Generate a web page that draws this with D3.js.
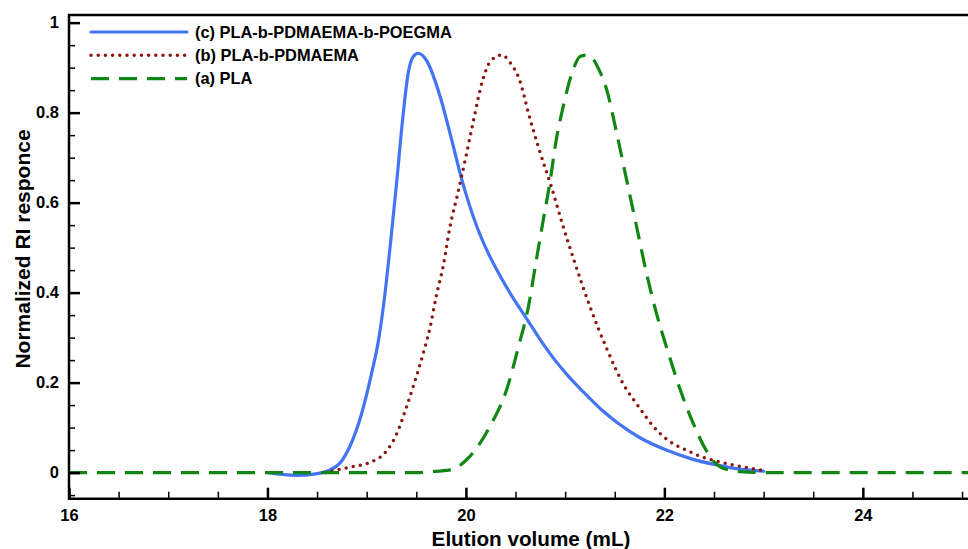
<!DOCTYPE html>
<html>
<head>
<meta charset="utf-8">
<script src="https://cdn.jsdelivr.net/npm/d3@7"></script>
<style>
    body { margin: 0; background: #fff; }
    text { font-family: "Liberation Sans", Arial, sans-serif; font-weight: bold; }
</style>
</head>
<body>
<div class="gpc-plot"></div>
<script>
// elution volume (mL) / normalized RI
const volC = [18.0, 18.15, 18.3, 18.45, 18.55, 18.63, 18.73, 18.83, 18.95, 19.05, 19.12, 19.18, 19.24, 19.3, 19.36, 19.42, 19.47, 19.52, 19.6, 19.74, 19.84, 19.96, 20.11, 20.22, 20.33, 20.47, 20.61, 20.75, 20.88, 21.03, 21.18, 21.35, 21.52, 21.75, 22.02, 22.28, 22.53, 22.75, 22.96, 23.0];
const riC  = [0, -0.004, -0.006, -0.004, 0, 0.006, 0.021, 0.058, 0.132, 0.221, 0.295, 0.39, 0.51, 0.64, 0.78, 0.89, 0.925, 0.932, 0.917, 0.836, 0.754, 0.65, 0.547, 0.49, 0.443, 0.39, 0.343, 0.295, 0.255, 0.215, 0.18, 0.143, 0.112, 0.078, 0.05, 0.03, 0.017, 0.008, 0.004, 0.003];

const volB = [18.58, 18.83, 19.05, 19.18, 19.3, 19.4, 19.49, 19.57, 19.64, 19.7, 19.77, 19.84, 19.91, 20.0, 20.07, 20.17, 20.25, 20.36, 20.45, 20.54, 20.64, 20.74, 20.86, 20.98, 21.11, 21.25, 21.42, 21.62, 21.69, 21.95, 22.29, 22.69, 22.96, 23.0];
const riB  = [0, 0.012, 0.024, 0.043, 0.085, 0.145, 0.206, 0.265, 0.324, 0.391, 0.458, 0.547, 0.613, 0.702, 0.776, 0.873, 0.915, 0.928, 0.91, 0.873, 0.791, 0.717, 0.636, 0.547, 0.458, 0.369, 0.275, 0.184, 0.162, 0.088, 0.043, 0.017, 0.006, 0.004];

const volA = [16.0, 19.5, 19.64, 19.84, 20.04, 20.24, 20.41, 20.53, 20.63, 20.71, 20.78, 20.85, 20.91, 20.98, 21.08, 21.15, 21.22, 21.28, 21.32, 21.42, 21.52, 21.62, 21.72, 21.82, 21.92, 22.02, 22.16, 22.29, 22.42, 22.56, 22.76, 23.0, 25.1];
const riA  = [0, 0, 0.002, 0.006, 0.036, 0.102, 0.184, 0.28, 0.369, 0.473, 0.562, 0.65, 0.739, 0.813, 0.895, 0.925, 0.928, 0.92, 0.905, 0.85, 0.754, 0.65, 0.547, 0.443, 0.354, 0.28, 0.184, 0.11, 0.05, 0.013, 0.002, 0, 0];

const seriesNames = ["(c) PLA-b-PDMAEMA-b-POEGMA", "(b) PLA-b-PDMAEMA", "(a) PLA"];
const xTicks = [16, 18, 20, 22, 24];
const yTicks = [0, 0.2, 0.4, 0.6, 0.8, 1];

function main(){
    const width = 968;
    const height = 549;

    const svg = d3.select('.gpc-plot')
        .append('svg')
        .attr('width', width)
        .attr('height', height);

    const x = d3.scaleLinear().domain([16, 25.07]).range([69, 969]);
    const y = d3.scaleLinear().domain([-0.058, 1.017]).range([498.7, 15]);

    const series = [
        {name: seriesNames[0], vol: volC, ri: riC, color: "#4274f4", dash: null, cap: "round"},
        {name: seriesNames[1], vol: volB, ri: riB, color: "#8b1710", dash: "0,7.2", cap: "round"},
        {name: seriesNames[2], vol: volA, ri: riA, color: "#128612", dash: "18,10", cap: "butt"}
    ];

    svg.append("defs").append("clipPath").attr("id", "clip")
        .append("rect").attr("x", 69).attr("y", 15).attr("width", 900).attr("height", 484);

    const line = d3.line()
        .x(d => x(d[0]))
        .y(d => y(d[1]))
        .curve(d3.curveMonotoneX);

    svg.append("g").attr("clip-path", "url(#clip)")
        .selectAll("path")
        .data(series)
        .enter()
        .append("path")
        .attr("d", s => line(d3.zip(s.vol, s.ri)))
        .attr("fill", "none")
        .attr("stroke", s => s.color)
        .attr("stroke-width", s => s.dash == "0,7.2" ? 3.5 : 3.2)
        .attr("stroke-dasharray", s => s.dash)
        .attr("stroke-linecap", s => s.cap)
        .attr("stroke-linejoin", "round");

    // minor ticks
    svg.append("g")
        .attr("transform", "translate(0,498.7)")
        .call(d3.axisBottom(x).tickValues(d3.range(16, 25.01, 0.5)).tickSize(-7).tickFormat(""))
        .call(g => g.select(".domain").remove())
        .selectAll("line").attr("stroke-width", 1.5);
    svg.append("g")
        .attr("transform", "translate(69,0)")
        .call(d3.axisLeft(y).tickValues(d3.range(-0.05, 1.001, 0.05)).tickSize(-6).tickFormat(""))
        .call(g => g.select(".domain").remove())
        .selectAll("line").attr("stroke-width", 1.5);

    // major ticks + labels
    const xAxis = svg.append("g")
        .attr("transform", "translate(0,498.7)")
        .call(d3.axisBottom(x).tickValues(xTicks).tickSize(-11).tickPadding(11).tickFormat(d3.format("d")));
    xAxis.select(".domain").remove();
    xAxis.selectAll("line").attr("stroke-width", 2.5);
    xAxis.selectAll("text").attr("font-size", "16.5px").attr("fill", "#000");

    const yAxis = svg.append("g")
        .attr("transform", "translate(69,0)")
        .call(d3.axisLeft(y).tickValues(yTicks).tickSize(-11).tickPadding(10).tickFormat(d => d == 0 || d == 1 ? d : d.toFixed(1)));
    yAxis.select(".domain").remove();
    yAxis.selectAll("line").attr("stroke-width", 2.5);
    yAxis.selectAll("text").attr("font-size", "16.5px").attr("fill", "#000");

    // frame
    svg.append("path")
        .attr("d", "M969,15H69V498.7H969")
        .attr("fill", "none")
        .attr("stroke", "#000")
        .attr("stroke-width", 2.5);

    // legend
    const legend = svg.append("g")
        .selectAll("g")
        .data(series)
        .enter()
        .append("g")
        .attr("transform", (d, i) => "translate(0," + (32 + i * 23.3) + ")");
    legend.append("line")
        .attr("x1", 91).attr("x2", 187)
        .attr("stroke", d => d.color)
        .attr("stroke-width", d => d.dash == "0,7.2" ? 3.5 : 3.2)
        .attr("stroke-dasharray", d => d.dash)
        .attr("stroke-linecap", d => d.cap);
    legend.append("text")
        .attr("x", 195)
        .attr("dy", "0.35em")
        .attr("font-size", "16.4px")
        .text(d => d.name);

    svg.append("text")
        .attr("x", 531)
        .attr("y", 546)
        .attr("text-anchor", "middle")
        .attr("font-size", "20.7px")
        .text("Elution volume (mL)");

    svg.append("text")
        .attr("transform", "translate(30,249) rotate(-90)")
        .attr("text-anchor", "middle")
        .attr("font-size", "21px")
        .text("Normalized RI responce");
}

main();
</script>
</body>
</html>
